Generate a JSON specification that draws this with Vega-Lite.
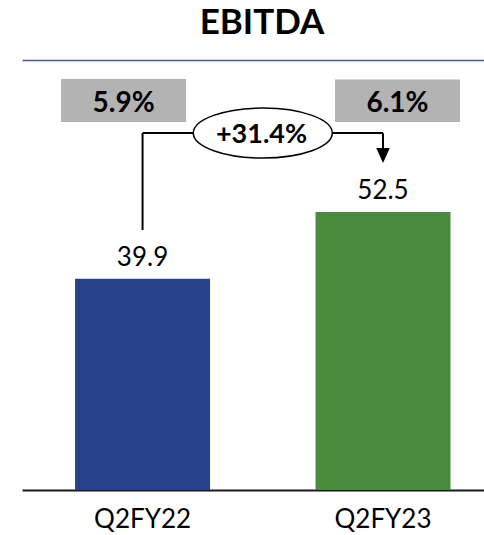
{
  "$schema": "https://vega.github.io/schema/vega-lite/v6.json",
  "width": 462,
  "height": 430,
  "autosize": {"type": "none"},
  "padding": {"top": 60, "left": 22, "right": 0, "bottom": 45},
  "background": "white",
  "config": {"view": {"stroke": null}, "font": "Lato"},
  "title": {"text": "EBITDA", "fontSize": 35, "font": "Lato", "fontWeight": "bold", "color": "black", "anchor": "middle", "frame": "group", "offset": 19, "dx": 9},
  "data": {"values": [
    {"period": "Q2FY22", "ebitda": 39.9, "margin": "5.9%"},
    {"period": "Q2FY23", "ebitda": 52.5, "margin": "6.1%"}
  ]},
  "layer": [
    {
      "mark": {"type": "bar"},
      "encoding": {
        "x": {"field": "period", "type": "nominal", "sort": null,
              "scale": {"paddingInner": 0.4387, "paddingOuter": 0.18, "align": 0.613},
              "axis": {"orient": "bottom", "title": null, "labelAngle": 0, "ticks": false, "grid": false,
                       "domainColor": "#1a1a1a", "domainWidth": 2, "labelFontSize": 26, "labelFont": "Lato",
                       "labelColor": "black", "labelPadding": 16}},
        "y": {"field": "ebitda", "type": "quantitative", "scale": {"domain": [0, 81.2], "nice": false, "zero": true}, "axis": null},
        "color": {"field": "period", "type": "nominal", "scale": {"domain": ["Q2FY22", "Q2FY23"], "range": ["#27418A", "#4A8A3F"]}, "legend": null}
      }
    },
    {
      "mark": {"type": "text", "dy": -13, "baseline": "alphabetic", "fontSize": 26, "font": "Lato", "color": "black"},
      "encoding": {
        "x": {"field": "period", "type": "nominal", "sort": null,
              "axis": {"orient": "top", "title": null, "labels": false, "ticks": false, "grid": false,
                       "domainColor": "#44599A", "domainWidth": 1.5}},
        "y": {"field": "ebitda", "type": "quantitative", "axis": null},
        "text": {"field": "ebitda", "type": "quantitative", "format": ".1f"}
      }
    },
    {
      "transform": [{"filter": "datum.period === 'Q2FY22'"}],
      "layer": [
        {
          "mark": {"type": "bar", "width": 125, "xOffset": -19, "color": "#B3B3B3"},
          "encoding": {
            "x": {"field": "period", "type": "nominal", "sort": null, "axis": null},
            "y": {"datum": 77.6, "type": "quantitative", "axis": null},
            "y2": {"datum": 69.5}
          }
        },
        {
          "mark": {"type": "text", "xOffset": -19, "baseline": "alphabetic", "fontSize": 28, "font": "Lato", "fontWeight": "bold", "color": "black"},
          "encoding": {
            "x": {"field": "period", "type": "nominal", "sort": null, "axis": null},
            "y": {"datum": 71.4, "type": "quantitative", "axis": null},
            "text": {"field": "margin"}
          }
        }
      ]
    },
    {
      "transform": [{"filter": "datum.period === 'Q2FY23'"}],
      "layer": [
        {
          "mark": {"type": "bar", "width": 125, "xOffset": 14.5, "color": "#B3B3B3"},
          "encoding": {
            "x": {"field": "period", "type": "nominal", "sort": null, "axis": null},
            "y": {"datum": 77.5, "type": "quantitative", "axis": null},
            "y2": {"datum": 69.5}
          }
        },
        {
          "mark": {"type": "text", "xOffset": 14.5, "baseline": "alphabetic", "fontSize": 28, "font": "Lato", "fontWeight": "bold", "color": "black"},
          "encoding": {
            "x": {"field": "period", "type": "nominal", "sort": null, "axis": null},
            "y": {"datum": 71.4, "type": "quantitative", "axis": null},
            "text": {"field": "margin"}
          }
        }
      ]
    },
    {
      "data": {"values": [{"growth": "+31.4%"}]},
      "layer": [
        {
          "mark": {"type": "rule", "strokeWidth": 2, "color": "black"},
          "encoding": {
            "x": {"datum": "Q2FY22", "type": "nominal", "axis": null},
            "y": {"datum": 49.1, "type": "quantitative", "axis": null},
            "y2": {"datum": 67.4}
          }
        },
        {
          "mark": {"type": "rule", "strokeWidth": 2, "color": "black"},
          "encoding": {
            "x": {"datum": "Q2FY22", "type": "nominal", "axis": null},
            "x2": {"datum": "Q2FY23"},
            "y": {"datum": 67.4, "type": "quantitative", "axis": null}
          }
        },
        {
          "mark": {"type": "rule", "strokeWidth": 2, "color": "black"},
          "encoding": {
            "x": {"datum": "Q2FY23", "type": "nominal", "axis": null},
            "y": {"datum": 67.4, "type": "quantitative", "axis": null},
            "y2": {"datum": 64.4}
          }
        },
        {
          "mark": {"type": "point", "shape": "M-0.9,-1L0.9,-1L0,1Z", "size": 225, "filled": true, "color": "black", "opacity": 1},
          "encoding": {
            "x": {"datum": "Q2FY23", "type": "nominal", "axis": null},
            "y": {"datum": 63.17, "type": "quantitative", "axis": null}
          }
        },
        {
          "mark": {"type": "point", "shape": "M-1,0C-1,-0.199 -0.552,-0.36 0,-0.36C0.552,-0.36 1,-0.199 1,0C1,0.199 0.552,0.36 0,0.36C-0.552,0.36 -1,0.199 -1,0Z",
                   "size": 19321, "filled": false, "fill": "white", "fillOpacity": 1, "stroke": "black", "strokeWidth": 1.5, "opacity": 1, "xOffset": 120.25},
          "encoding": {
            "x": {"datum": "Q2FY22", "type": "nominal", "axis": null},
            "y": {"datum": 67.4, "type": "quantitative", "axis": null}
          }
        },
        {
          "mark": {"type": "text", "xOffset": 119, "baseline": "alphabetic", "fontSize": 27, "font": "Lato", "fontWeight": "bold", "color": "black"},
          "encoding": {
            "x": {"datum": "Q2FY22", "type": "nominal", "axis": null},
            "y": {"datum": 65.5, "type": "quantitative", "axis": null},
            "text": {"field": "growth"}
          }
        }
      ]
    }
  ]
}
